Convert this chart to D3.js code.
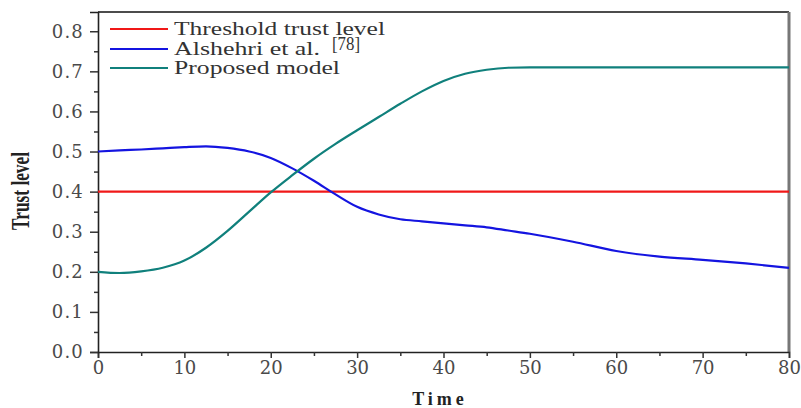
<!DOCTYPE html>
<html>
<head>
<meta charset="utf-8">
<script src="https://cdn.jsdelivr.net/npm/d3@7"></script>
<style>
  body { margin: 0; background: #fff; }
  .tick text { font-family: "DejaVu Serif", serif; font-size: 18px; fill: #4a4a4a; }
  .legend text { font-family: "Liberation Serif", "Times New Roman", serif; font-size: 19px; fill: #333; }
</style>
</head>
<body>
<script>
// values
const time = [0, 2.5, 5, 7.5, 10, 12.5, 15, 17.5, 20, 22.5, 25, 27.5, 30, 32.5, 35, 37.5, 40, 42.5, 45, 47.5, 50, 55, 60, 65, 70, 75, 80];
const threshold = time.map(() => 0.4);
const alshehri = [0.500, 0.503, 0.505, 0.508, 0.511, 0.513, 0.509, 0.500, 0.484, 0.458, 0.427, 0.393, 0.362, 0.343, 0.331, 0.326, 0.321, 0.316, 0.311, 0.303, 0.295, 0.275, 0.252, 0.238, 0.230, 0.221, 0.210];
const proposed = [0.200, 0.197, 0.201, 0.210, 0.228, 0.260, 0.302, 0.350, 0.398, 0.441, 0.482, 0.519, 0.553, 0.586, 0.619, 0.650, 0.676, 0.694, 0.704, 0.709, 0.710, 0.710, 0.710, 0.710, 0.710, 0.710, 0.710];
const seriesNames = ["Threshold trust level", "Alshehri et al.", "Proposed model"];
const seriesColors = ["#f01818", "#1414e0", "#10807c"];
const legendLengths = [211, 146, 166];
const xTicks = [0, 10, 20, 30, 40, 50, 60, 70, 80];
const yTicks = [0, 0.1, 0.2, 0.3, 0.4, 0.5, 0.6, 0.7, 0.8];

const W = 801, H = 408;
const margin = { left: 98, right: 12, top: 12, bottom: 56 };

const svg = d3.select("body").append("svg")
    .attr("width", W)
    .attr("height", H);

const x = d3.scaleLinear().domain([0, 80]).range([margin.left, W - margin.right]);
const y = d3.scaleLinear().domain([0, 0.848]).range([H - margin.bottom, margin.top]);

// frame: top black, right grey
svg.append("line")
    .attr("x1", x(0)).attr("x2", x(80))
    .attr("y1", y.range()[1]).attr("y2", y.range()[1])
    .attr("stroke", "#111").attr("stroke-width", 1.5);
svg.append("line")
    .attr("x1", x(80)).attr("x2", x(80))
    .attr("y1", y.range()[1]).attr("y2", y(0))
    .attr("stroke", "#777").attr("stroke-width", 3);

// x axis
svg.append("g")
    .attr("transform", `translate(0,${y(0)})`)
    .call(d3.axisBottom(x).tickValues(xTicks).tickFormat(d3.format("d")).tickSize(6).tickPadding(3));
svg.append("g")
    .attr("transform", `translate(0,${y(0)})`)
    .call(d3.axisBottom(x).tickValues(d3.range(5, 80, 10)).tickFormat("").tickSize(4))
    .select(".domain").remove();

// y axis
const yAxis = svg.append("g")
    .attr("transform", `translate(${x(0)},0)`)
    .call(d3.axisLeft(y).tickValues(yTicks).tickFormat(d3.format(".1f")).tickSize(8).tickPadding(6));
yAxis.selectAll(".tick text").attr("letter-spacing", 1.2);
svg.append("g")
    .attr("transform", `translate(${x(0)},0)`)
    .call(d3.axisLeft(y).tickValues(d3.range(0.05, 0.85, 0.1)).tickFormat("").tickSize(4))
    .select(".domain").remove();

svg.selectAll(".domain").attr("stroke", "#222").attr("stroke-width", 1.6);
svg.selectAll(".tick line").attr("stroke", "#333").attr("stroke-width", 1.5);

// axis titles
svg.append("text")
    .attr("x", 440).attr("y", 405)
    .attr("text-anchor", "middle")
    .attr("font-family", "Liberation Serif, serif")
    .attr("font-weight", "bold")
    .attr("font-size", 18)
    .attr("letter-spacing", 4)
    .attr("fill", "#222")
    .text("Time");

svg.append("text")
    .attr("transform", `translate(29,191) rotate(-90)`)
    .attr("text-anchor", "middle")
    .attr("font-family", "Liberation Serif, serif")
    .attr("font-weight", "bold")
    .attr("font-size", 26)
    .attr("textLength", 78)
    .attr("lengthAdjust", "spacingAndGlyphs")
    .attr("fill", "#222")
    .text("Trust level");

// lines
const line = d3.line()
    .x((d, i) => x(time[i]))
    .y(d => y(d))
    .curve(d3.curveMonotoneX);

[threshold, alshehri, proposed].forEach((vals, k) => {
    svg.append("path")
        .datum(vals)
        .attr("fill", "none")
        .attr("stroke", seriesColors[k])
        .attr("stroke-width", 2.2)
        .attr("d", line);
});

// legend
const legend = svg.append("g").attr("class", "legend");
const rows = [29, 49, 68];
seriesNames.forEach((name, k) => {
    legend.append("line")
        .attr("x1", 110).attr("x2", 168)
        .attr("y1", rows[k]).attr("y2", rows[k])
        .attr("stroke", seriesColors[k]).attr("stroke-width", 2.2);
    legend.append("text")
        .attr("x", 174).attr("y", rows[k] + 6)
        .attr("textLength", legendLengths[k])
        .attr("lengthAdjust", "spacingAndGlyphs")
        .text(name);
});
legend.append("text")
    .attr("x", 332).attr("y", rows[1] + 1)
    .attr("font-size", 14)
    .attr("textLength", 28)
    .attr("lengthAdjust", "spacingAndGlyphs")
    .text("[78]");
</script>
</body>
</html>
